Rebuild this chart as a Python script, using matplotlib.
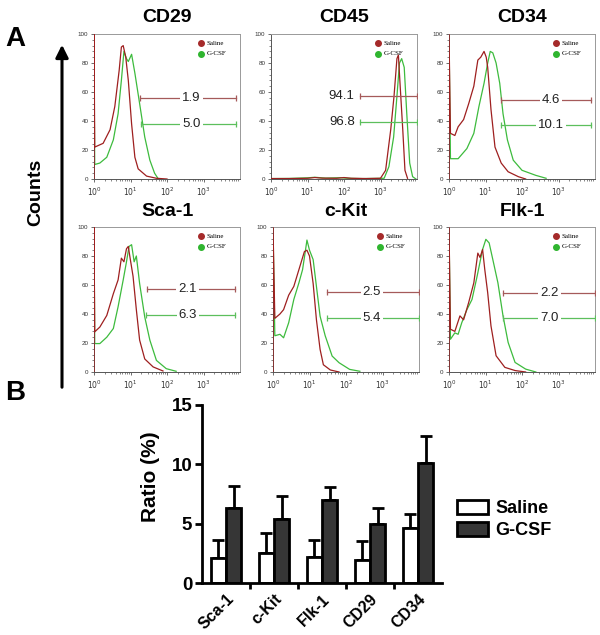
import matplotlib
matplotlib.use("Agg")
import matplotlib.pyplot as plt
import numpy as np
from matplotlib.ticker import MultipleLocator, FixedLocator
from matplotlib.patches import Patch, FancyArrowPatch

plt.rcParams["font.family"] = ["Liberation Sans", "DejaVu Sans"]

# ---- panel A: flow histograms, x = log10 intensity, y = counts ----
panel_names = ["CD29", "CD45", "CD34", "Sca-1", "c-Kit", "Flk-1"]

cd29_sal_x = [0, 0, 0.02, 0.25, 0.44, 0.57, 0.69, 0.75, 0.8, 0.87, 0.94, 1.03, 1.12, 1.21, 1.44, 1.71, 2.0]
cd29_sal_y = [0, 100, 22, 24.6, 34, 50, 75, 91, 92, 84, 68, 38, 15, 7, 2, 0.5, 0]
cd29_gc_x = [0, 0, 0.02, 0.16, 0.35, 0.53, 0.66, 0.75, 0.82, 0.89, 0.94, 1.03, 1.12, 1.25, 1.39, 1.53, 1.66, 1.75]
cd29_gc_y = [0, 78, 10, 11, 15, 27, 45, 68, 88, 83, 81, 86, 73, 52, 29, 13, 4, 0.5]

cd45_sal_x = [0, 0.5, 1.0, 1.2, 1.4, 1.8, 2.0, 2.2, 2.6, 3.0, 3.14, 3.28, 3.37, 3.45, 3.49, 3.53, 3.61, 3.67, 3.74]
cd45_sal_y = [0.3, 0.3, 0.5, 1.0, 0.6, 0.5, 1.0, 0.5, 0.3, 0.5, 6, 34, 57, 83, 85.5, 68, 34, 6, 0.5]
cd45_gc_x = [0, 0.5, 1.0, 1.2, 1.5, 1.9, 2.1, 2.5, 3.1, 3.23, 3.36, 3.45, 3.52, 3.58, 3.65, 3.72, 3.8, 3.88, 3.97]
cd45_gc_y = [0.3, 0.4, 0.8, 1.2, 0.6, 0.9, 0.5, 0.3, 0.5, 8.5, 29, 57, 80, 83, 77, 45, 11, 1.6, 0]

cd34_sal_x = [0, 0, 0.04, 0.16, 0.25, 0.4, 0.54, 0.68, 0.79, 0.87, 0.96, 1.02, 1.06, 1.15, 1.26, 1.43, 1.62, 1.9, 2.1]
cd34_sal_y = [0, 100, 31.5, 30, 36, 41, 52, 64, 82, 84, 88, 84, 77, 48, 22, 11, 5, 1.6, 0]
cd34_gc_x = [0, 0, 0.04, 0.25, 0.49, 0.68, 0.82, 0.96, 1.06, 1.13, 1.2, 1.29, 1.39, 1.48, 1.6, 1.76, 2.0, 2.38, 2.66]
cd34_gc_y = [0, 100, 14, 14, 21, 31.5, 50, 66, 80, 88, 87, 80, 66, 45, 27, 13, 6, 2.5, 0.5]

sca1_sal_x = [0, 0, 0.02, 0.16, 0.35, 0.53, 0.66, 0.75, 0.82, 0.89, 0.94, 0.98, 1.07, 1.16, 1.25, 1.39, 1.62, 1.89]
sca1_sal_y = [0, 100, 27.7, 31, 39, 54, 63.5, 78.5, 76, 85, 86.6, 80, 66, 43, 22, 9, 3.5, 0.7]
sca1_gc_x = [0, 0, 0.02, 0.16, 0.35, 0.53, 0.66, 0.8, 0.89, 0.96, 1.03, 1.1, 1.16, 1.25, 1.39, 1.53, 1.71, 1.98, 2.25]
sca1_gc_y = [0, 100, 19.6, 19.6, 24, 30, 45, 63.5, 76, 86.6, 87.8, 76, 80, 61, 38, 22, 8, 2.3, 0.5]

ckit_sal_x = [0, 0, 0.05, 0.19, 0.29, 0.43, 0.57, 0.71, 0.86, 0.93, 1.0, 1.1, 1.19, 1.29, 1.38, 1.57, 1.81]
ckit_sal_y = [0, 100, 37, 40, 43, 53, 59, 70.6, 83, 84, 80, 61, 36, 15.6, 5, 1.4, 0]
ckit_gc_x = [0, 0, 0.05, 0.19, 0.29, 0.43, 0.57, 0.71, 0.81, 0.89, 0.93, 1.0, 1.1, 1.19, 1.29, 1.43, 1.62, 1.81, 2.1, 2.38]
ckit_gc_y = [0, 100, 25, 26, 23.6, 34, 50, 61.5, 70.6, 84, 91, 84, 77.5, 59, 38.5, 25, 11, 6.4, 1.8, 0.5]

flk1_sal_x = [0, 0, 0.04, 0.16, 0.3, 0.4, 0.54, 0.68, 0.79, 0.85, 0.92, 0.98, 1.06, 1.15, 1.29, 1.53, 1.81, 2.1]
flk1_sal_y = [0, 100, 29.5, 28, 38.7, 36, 48, 61.5, 82, 79, 84.5, 70.7, 54.7, 31.8, 11.2, 3.2, 1, 0]
flk1_gc_x = [0, 0, 0.04, 0.16, 0.25, 0.35, 0.49, 0.63, 0.77, 0.92, 1.01, 1.1, 1.2, 1.34, 1.48, 1.62, 1.81, 2.1, 2.38]
flk1_gc_y = [0, 100, 22.6, 27, 26, 34, 43, 50, 66, 84.5, 91.5, 89, 77.6, 61.5, 38.7, 20.4, 6.6, 2, 0]

saline_curves = [(cd29_sal_x, cd29_sal_y), (cd45_sal_x, cd45_sal_y), (cd34_sal_x, cd34_sal_y),
                 (sca1_sal_x, sca1_sal_y), (ckit_sal_x, ckit_sal_y), (flk1_sal_x, flk1_sal_y)]
gcsf_curves = [(cd29_gc_x, cd29_gc_y), (cd45_gc_x, cd45_gc_y), (cd34_gc_x, cd34_gc_y),
               (sca1_gc_x, sca1_gc_y), (ckit_gc_x, ckit_gc_y), (flk1_gc_x, flk1_gc_y)]

# gated percentages and gate markers
gate_pct_saline = [1.9, 94.1, 4.6, 2.1, 2.5, 2.2]
gate_pct_gcsf = [5.0, 96.8, 10.1, 6.3, 5.4, 7.0]
gate_start_saline = [1.25, 2.44, 1.43, 1.44, 1.48, 1.48]
gate_start_gcsf = [1.28, 2.44, 1.43, 1.43, 1.48, 1.48]
gate_end = [3.9, 4.0, 3.9, 3.85, 4.0, 4.0]
gate_y_saline = [56, 57, 54.5, 57, 55, 54.7]
gate_y_gcsf = [38, 39, 37, 39, 37.4, 37.5]
gate_label_x = [2.67, 1.94, 2.8, 2.57, 2.71, 2.75]

# ---- panel B: ratio bar chart ----
markers = ["Sca-1", "c-Kit", "Flk-1", "CD29", "CD34"]
saline_mean = [2.1, 2.5, 2.2, 1.9, 4.6]
saline_err = [1.55, 1.7, 1.45, 1.6, 1.2]
gcsf_mean = [6.3, 5.4, 7.0, 5.0, 10.1]
gcsf_err = [1.9, 1.9, 1.1, 1.36, 2.3]

W, H = 600, 635
RED = "#9e1f1f"
GREEN = "#3dbb3d"
RED_GATE = "#a55a5a"
GREEN_GATE = "#5cbf5c"

fig = plt.figure(figsize=(W / 100, H / 100), dpi=100)
fig.patch.set_facecolor("white")


def px_axes(left, top, width, height):
    return fig.add_axes([left / W, 1 - (top + height) / H, width / W, height / H])


lefts = [94, 271, 449, 94, 273, 449]
tops = [34, 34, 34, 227, 227, 227]

for i, name in enumerate(panel_names):
    ax = px_axes(lefts[i], tops[i], 146, 145)
    ax.plot(*saline_curves[i], color=RED, lw=0.9, zorder=3)
    ax.plot(*gcsf_curves[i], color=GREEN, lw=0.9, zorder=2)
    ax.set_xlim(0, 4.0)
    ax.set_ylim(0, 100)
    ax.set_yticks(range(0, 101, 20))
    ax.yaxis.set_minor_locator(MultipleLocator(4))
    ax.set_xticks(range(0, 4))
    ax.set_xticklabels([f"$10^{d}$" for d in range(4)])
    minors = [d + np.log10(k) for d in range(4) for k in range(2, 10)]
    ax.xaxis.set_minor_locator(FixedLocator(minors))
    ax.tick_params(labelsize=4.5, length=2.5, width=0.6, color="#555555", pad=1.5, labelcolor="#333333")
    ax.tick_params(which="minor", length=1.5, width=0.5, color="#555555")
    ax.tick_params(axis="x", labelsize=5.5, pad=2)
    for side, sp in ax.spines.items():
        sp.set_linewidth(0.7)
        sp.set_color("#555555" if side in ("left", "bottom") else "#999999")

    # gates
    for start, y, pct, c in [(gate_start_saline[i], gate_y_saline[i], gate_pct_saline[i], RED_GATE),
                             (gate_start_gcsf[i], gate_y_gcsf[i], gate_pct_gcsf[i], GREEN_GATE)]:
        ax.plot([start, gate_end[i]], [y, y], color=c, lw=0.9, zorder=4)
        ax.plot([start, gate_end[i]], [y, y], ls="none", marker="|", ms=5, mew=0.9, color=c, zorder=4)
        if name == "CD45":
            ax.text(gate_label_x[i], y, f"{pct:.1f}", fontsize=9.5, ha="center", va="center", color="#222222", zorder=5)
        else:
            ax.text(gate_label_x[i], y, f"{pct:.1f}", fontsize=9.5, ha="center", va="center", color="#222222",
                    zorder=5, bbox=dict(fc="white", ec="none", pad=1.5))

    # small in-panel legend
    ax.plot([0.735], [0.935], transform=ax.transAxes, marker="o", ms=4, color="#a52a2a", ls="none", clip_on=False)
    ax.plot([0.735], [0.865], transform=ax.transAxes, marker="o", ms=4, color="#2fb52f", ls="none", clip_on=False)
    ax.text(0.77, 0.935, "Saline", transform=ax.transAxes, fontsize=5, va="center", family="Liberation Serif")
    ax.text(0.77, 0.865, "G-CSF", transform=ax.transAxes, fontsize=5, va="center", family="Liberation Serif")

    title_y = 17 if i < 3 else 211
    fig.text((lefts[i] + 73) / W, 1 - title_y / H, name, fontsize=14, fontweight="bold", ha="center", va="center")

fig.text(15 / W, 1 - 39 / H, "A", fontsize=20, fontweight="bold", ha="center", va="center")
fig.text(15 / W, 1 - 393 / H, "B", fontsize=20, fontweight="bold", ha="center", va="center")
fig.text(36 / W, 1 - 192 / H, "Counts", fontsize=14, fontweight="bold", rotation=90, ha="center", va="center")
fig.add_artist(FancyArrowPatch((62 / W, 1 - 390 / H), (62 / W, 1 - 42 / H),
                               transform=fig.transFigure, arrowstyle="-|>,head_length=5,head_width=2.5",
                               lw=2.2, color="black", mutation_scale=1.5))

# ---- bar chart ----
axb = px_axes(202, 405, 240, 178)
x = np.arange(len(markers))
bw = 0.32
axb.bar(x - bw / 2, saline_mean, bw, color="white", edgecolor="black", lw=2, zorder=2, label="Saline")
axb.bar(x + bw / 2, gcsf_mean, bw, color="#363636", edgecolor="black", lw=2, zorder=2, label="G-CSF")
axb.errorbar(x - bw / 2, saline_mean, yerr=[np.zeros(len(x)), saline_err], fmt="none", ecolor="black",
             elinewidth=2, capsize=4, capthick=2, zorder=1)
axb.errorbar(x + bw / 2, gcsf_mean, yerr=[np.zeros(len(x)), gcsf_err], fmt="none", ecolor="black",
             elinewidth=2, capsize=4, capthick=2, zorder=1)
axb.set_xlim(-0.5, 4.5)
axb.set_ylim(0, 15)
axb.set_yticks([0, 5, 10, 15])
axb.set_xticks(x)
axb.set_xticklabels(markers, rotation=45, ha="right", va="top", rotation_mode="anchor", fontsize=11.5, fontweight="bold")
axb.xaxis.set_minor_locator(FixedLocator([0.5, 1.5, 2.5, 3.5]))
axb.tick_params(axis="x", which="major", length=0, pad=6)
axb.tick_params(axis="x", which="minor", length=4, width=2)
axb.tick_params(axis="y", length=5, width=2, labelsize=13.5, pad=2)
for lab in axb.get_yticklabels():
    lab.set_fontweight("bold")
for side in ("top", "right"):
    axb.spines[side].set_visible(False)
for side in ("left", "bottom"):
    axb.spines[side].set_linewidth(2)
fig.text(151 / W, 1 - 477 / H, "Ratio (%)", fontsize=15, fontweight="bold", rotation=90, ha="center", va="center")

handles = [Patch(fc="white", ec="black", lw=2, label="Saline"), Patch(fc="#363636", ec="black", lw=2, label="G-CSF")]
leg = fig.legend(handles=handles, loc="upper left", bbox_to_anchor=(450 / W, 1 - 493 / H), frameon=False,
                 prop=dict(size=13, weight="bold"), handlelength=1.7, handleheight=0.8, handletextpad=0.4,
                 labelspacing=0.25, borderaxespad=0)

fig.savefig("out.png", dpi=100, facecolor="white")
